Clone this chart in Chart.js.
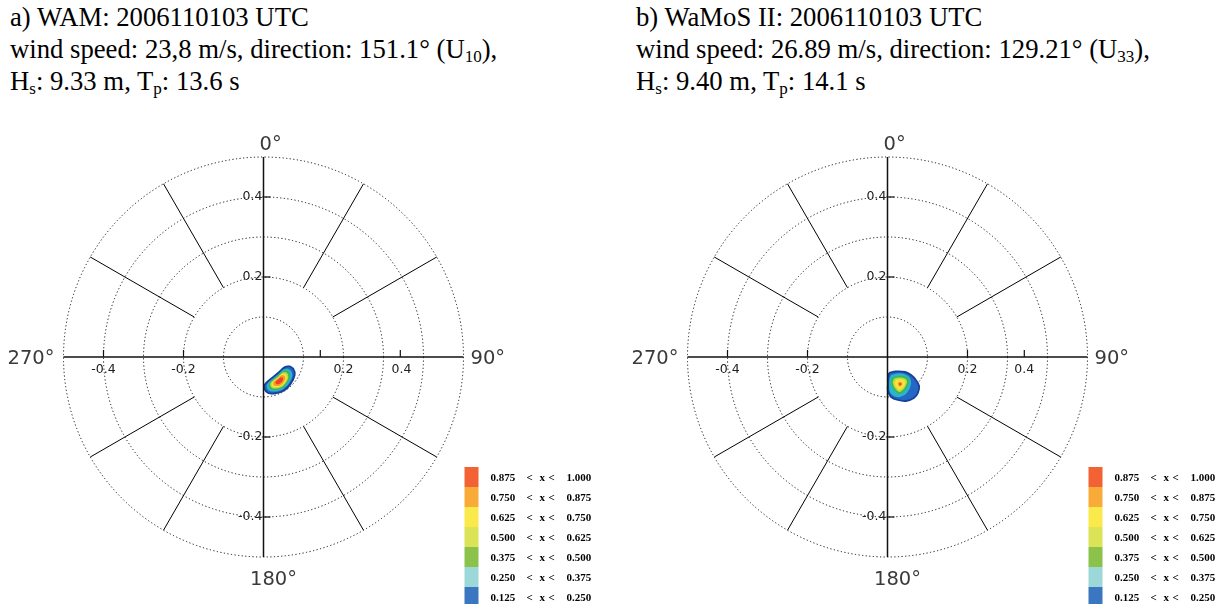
<!DOCTYPE html>
<html><head><meta charset="utf-8">
<script src="https://cdn.jsdelivr.net/npm/chart.js@4.4.0/dist/chart.umd.min.js"></script>
<style>
html,body{margin:0;padding:0;background:#fff;}
body{width:1222px;height:604px;position:relative;overflow:hidden;}
.title{position:absolute;font-family:"Liberation Serif","Times New Roman",serif;font-size:26.7px;line-height:32px;color:#000;white-space:nowrap;}
.title sub{font-size:17px;vertical-align:-4px;line-height:0;}
canvas{position:absolute;}
</style></head><body>
<div class="title" style="left:10px;top:1px;">a) WAM: 2006110103 UTC<br>wind speed: 23,8 m/s, direction: 151.1° (U<sub>10</sub>),<br>H<sub>s</sub>: 9.33 m, T<sub>p</sub>: 13.6 s</div>
<div class="title" style="left:636px;top:1px;">b) WaMoS II: 2006110103 UTC<br>wind speed: 26.89 m/s, direction: 129.21° (U<sub>33</sub>),<br>H<sub>s</sub>: 9.40 m, T<sub>p</sub>: 14.1 s</div>
<canvas id="cA" width="611" height="504" style="left:0;top:100px;"></canvas>
<canvas id="cB" width="611" height="504" style="left:611px;top:100px;"></canvas>
<script>
// ---------- data ----------
const levelLower = ['0.875','0.750','0.625','0.500','0.375','0.250','0.125'];
const levelUpper = ['1.000','0.875','0.750','0.625','0.500','0.375','0.250'];
const legendColors = ['#f26234','#f9ab3a','#f9e94b','#dce357','#8bc24c','#9dd8d8','#3a77c0'];
// blob fill colours, from lowest level (outer) to highest (inner)
const blobColors = ['#2467c4','#2ab5c8','#3fb54a','#bcd94a','#f6e43a','#f59a2c','#ee4424'];
const outlineColor = '#17409a';
const ringRadii = [0.1,0.2,0.3,0.4,0.5];
const spokeAngles = [30,60,120,150,210,240,300,330];
const spokeInner = 0.2, spokeOuter = 0.5;
const yTicks = [0.4,0.2,-0.2,-0.4];
const yTickText = ['0.4','0.2','-0.2','-0.4'];
const xTickText = ['-0.4','-0.2','0.2','0.4'];
const xTickMarksA = [-0.4,-0.2,0.142,0.342];
const xTickLabelValsA = [-0.4,-0.2,0.2,0.345];
const xTickMarksB = [-0.4,-0.2,0.2,0.342];
const xTickLabelValsB = [-0.4,-0.2,0.2,0.342];
const compassText = ['0°','90°','180°','270°'];

// WAM spectrum contours (x = east, y = north), levels 0.125 ... 0.875
const wamL1 = [[0.064,-0.0225],[0.074,-0.029],[0.078,-0.045],[0.0665,-0.069],[0.049,-0.085],[0.029,-0.091],[0.0115,-0.09],[0.003,-0.081],[0.003,-0.069],[0.0165,-0.056],[0.0365,-0.04],[0.0515,-0.026]];
const wamL2 = [[0.060,-0.0285],[0.068,-0.034],[0.072,-0.047],[0.062,-0.068],[0.047,-0.081],[0.031,-0.086],[0.016,-0.085],[0.009,-0.078],[0.009,-0.068],[0.020,-0.057],[0.037,-0.043],[0.0495,-0.0315]];
const wamL3 = [[0.0565,-0.034],[0.0635,-0.038],[0.066,-0.0495],[0.058,-0.066],[0.046,-0.0775],[0.032,-0.082],[0.020,-0.081],[0.014,-0.075],[0.014,-0.066],[0.023,-0.057],[0.037,-0.046],[0.048,-0.036]];
const wamL4 = [[0.054,-0.0375],[0.060,-0.041],[0.062,-0.051],[0.0555,-0.065],[0.045,-0.075],[0.033,-0.0785],[0.0225,-0.078],[0.0175,-0.0725],[0.0175,-0.065],[0.0255,-0.0575],[0.0375,-0.048],[0.0465,-0.0395]];
const wamL5 = [[0.0515,-0.041],[0.0565,-0.0445],[0.0585,-0.0525],[0.053,-0.0645],[0.044,-0.0725],[0.034,-0.0755],[0.025,-0.075],[0.021,-0.0705],[0.021,-0.0645],[0.0275,-0.058],[0.038,-0.050],[0.045,-0.043]];
const wamL6 = [[0.049,-0.045],[0.053,-0.0475],[0.0545,-0.054],[0.050,-0.0635],[0.043,-0.070],[0.035,-0.0725],[0.028,-0.072],[0.0245,-0.0685],[0.0245,-0.0635],[0.030,-0.0585],[0.038,-0.052],[0.044,-0.0465]];
const wamL7 = [[0.045,-0.0505],[0.048,-0.052],[0.049,-0.056],[0.046,-0.062],[0.0415,-0.066],[0.0365,-0.068],[0.032,-0.0675],[0.030,-0.065],[0.030,-0.062],[0.033,-0.059],[0.038,-0.055],[0.042,-0.0515]];

// WaMoS II spectrum contours
const wamosL1 = [[0.004,-0.040],[0.021,-0.036],[0.044,-0.0375],[0.059,-0.045],[0.071,-0.0575],[0.079,-0.0725],[0.076,-0.090],[0.066,-0.1025],[0.046,-0.110],[0.026,-0.1075],[0.009,-0.100],[0.001,-0.085],[0.001,-0.0675],[0.001,-0.0525]];
const wamosL2 = [[0.009,-0.045],[0.024,-0.041],[0.041,-0.0425],[0.054,-0.050],[0.059,-0.0625],[0.056,-0.0775],[0.046,-0.0925],[0.031,-0.100],[0.016,-0.0975],[0.006,-0.0875],[0.004,-0.0725],[0.005,-0.055]];
const wamosL3 = [[0.014,-0.050],[0.031,-0.0475],[0.049,-0.051],[0.054,-0.060],[0.049,-0.075],[0.039,-0.0875],[0.029,-0.0925],[0.019,-0.085],[0.011,-0.0725],[0.009,-0.060]];
const wamosL4 = [[0.017,-0.0535],[0.031,-0.0515],[0.045,-0.0545],[0.049,-0.0615],[0.045,-0.0735],[0.037,-0.0835],[0.029,-0.0875],[0.021,-0.0815],[0.015,-0.0715],[0.013,-0.0615]];
const wamosL5 = [[0.021,-0.057],[0.031,-0.0555],[0.042,-0.058],[0.045,-0.063],[0.042,-0.072],[0.036,-0.079],[0.030,-0.0825],[0.024,-0.078],[0.019,-0.0705],[0.018,-0.063]];
const wamosL6 = [[0.0269,-0.0631],[0.0313,-0.0625],[0.0356,-0.0635],[0.0369,-0.0656],[0.0356,-0.0694],[0.0331,-0.0725],[0.0306,-0.0738],[0.0281,-0.0719],[0.0263,-0.0688],[0.0256,-0.0656]];
const wamosL7 = [[0.030,-0.065],[0.0338,-0.065],[0.035,-0.0688],[0.0325,-0.0713],[0.0295,-0.070]];

// ---------- drawing ----------
function levelDatasets(levels){
  return levels.map((pts,i)=>({
    data: pts.concat([pts[0]]).map(p=>({x:p[0],y:p[1]})),
    fill:'shape',
    backgroundColor: blobColors[i],
    borderColor: i===0 ? outlineColor : blobColors[i],
    borderWidth: i===0 ? 1.8 : 0,
    pointRadius: 0,
    tension: 0.3,
    order: levels.length - i
  }));
}

const polarFrame = {
  id:'polarFrame',
  beforeDatasetsDraw(chart){
    const ctx = chart.ctx, xs = chart.scales.x, ys = chart.scales.y;
    const cx = xs.getPixelForValue(0), cy = ys.getPixelForValue(0);
    const unit = xs.getPixelForValue(1) - cx;
    ctx.save();
    ctx.strokeStyle = '#111'; ctx.lineWidth = 1;
    ctx.setLineDash([1.2,2.4]);
    ringRadii.forEach(r=>{
      ctx.beginPath(); ctx.arc(cx,cy,xs.getPixelForValue(r)-cx,0,Math.PI*2); ctx.stroke();
    });
    ctx.setLineDash([]);
    ctx.strokeStyle = '#000'; ctx.lineWidth = 1;
    spokeAngles.forEach(a=>{
      const t = a*Math.PI/180;
      ctx.beginPath();
      ctx.moveTo(cx+Math.sin(t)*spokeInner*unit, cy-Math.cos(t)*spokeInner*unit);
      ctx.lineTo(cx+Math.sin(t)*spokeOuter*unit, cy-Math.cos(t)*spokeOuter*unit);
      ctx.stroke();
    });
    ctx.restore();
  },
  afterDatasetsDraw(chart, args, opts){
    const ctx = chart.ctx, xs = chart.scales.x, ys = chart.scales.y;
    const cx = xs.getPixelForValue(0), cy = ys.getPixelForValue(0);
    ctx.save();
    ctx.strokeStyle = '#111'; ctx.lineWidth = 1.7;
    ctx.beginPath();
    ctx.moveTo(xs.getPixelForValue(-0.5), cy); ctx.lineTo(xs.getPixelForValue(0.5), cy);
    ctx.stroke();
    ctx.lineWidth = 1.5;
    ctx.beginPath();
    ctx.moveTo(cx, ys.getPixelForValue(0.5)); ctx.lineTo(cx, ys.getPixelForValue(-0.5));
    ctx.stroke();
    // ticks
    ctx.lineWidth = 1.2;
    ctx.font = '12.5px "DejaVu Sans", sans-serif';
    ctx.fillStyle = '#222';
    yTicks.forEach((v,i)=>{
      const y = ys.getPixelForValue(v);
      ctx.beginPath(); ctx.moveTo(cx,y); ctx.lineTo(cx+7,y); ctx.stroke();
      ctx.textAlign='right'; ctx.textBaseline='middle';
      ctx.fillText(yTickText[i], cx-1, y);
    });
    opts.xTickMarks.forEach(v=>{
      const x = xs.getPixelForValue(v);
      ctx.beginPath(); ctx.moveTo(x,cy); ctx.lineTo(x,cy-7); ctx.stroke();
    });
    opts.xTickLabelVals.forEach((v,i)=>{
      ctx.textAlign='center'; ctx.textBaseline='top';
      ctx.fillText(xTickText[i], xs.getPixelForValue(v), cy+6);
    });
    // compass labels
    ctx.font = '19.5px "DejaVu Sans", sans-serif';
    ctx.fillStyle = '#3a3a3a'; ctx.textBaseline='alphabetic';
    ctx.textAlign='left';
    ctx.fillText(compassText[0], cx-4, cy-207);
    ctx.fillText(compassText[1], cx+207, cy+7);
    ctx.fillText(compassText[2], cx-13.5, cy+228);
    ctx.textAlign='right';
    ctx.fillText(compassText[3], cx-209, cy+7);
    // legend
    const bx = chart.chartArea.right + 1, by = chart.chartArea.bottom - 90;
    ctx.font = 'bold 11px "Liberation Serif", serif';
    ctx.textBaseline='middle'; ctx.textAlign='left';
    legendColors.forEach((c,i)=>{
      ctx.fillStyle = c;
      ctx.fillRect(bx, by+i*20, 14, 20);
      ctx.fillStyle = '#000';
      const ty = by + i*20 + 11;
      ctx.fillText(levelLower[i], bx+26, ty);
      ctx.fillText('<', bx+62, ty);
      ctx.fillText('x', bx+75, ty);
      ctx.fillText('<', bx+84, ty);
      ctx.fillText(levelUpper[i], bx+102, ty);
    });
    ctx.restore();
  }
};

function makePlot(id, levels, padL, padR, xTickMarks, xTickLabelVals){
  return new Chart(document.getElementById(id), {
    type:'line',
    data:{ datasets: levelDatasets(levels) },
    options:{
      responsive:false, animation:false, devicePixelRatio:1,
      layout:{ padding:{ left:padL, right:padR, top:57, bottom:47 } },
      scales:{
        x:{ type:'linear', min:-0.5, max:0.5, display:false },
        y:{ type:'linear', min:-0.5, max:0.5, display:false }
      },
      plugins:{ legend:{display:false}, tooltip:{enabled:false},
        polarFrame:{ xTickMarks, xTickLabelVals } }
    },
    plugins:[polarFrame]
  });
}

makePlot('cA', [wamL1,wamL2,wamL3,wamL4,wamL5,wamL6,wamL7], 63.5, 147.5, xTickMarksA, xTickLabelValsA);
makePlot('cB', [wamosL1,wamosL2,wamosL3,wamosL4,wamosL5,wamosL6,wamosL7], 76.5, 134.5, xTickMarksB, xTickLabelValsB);
</script>
</body></html>
